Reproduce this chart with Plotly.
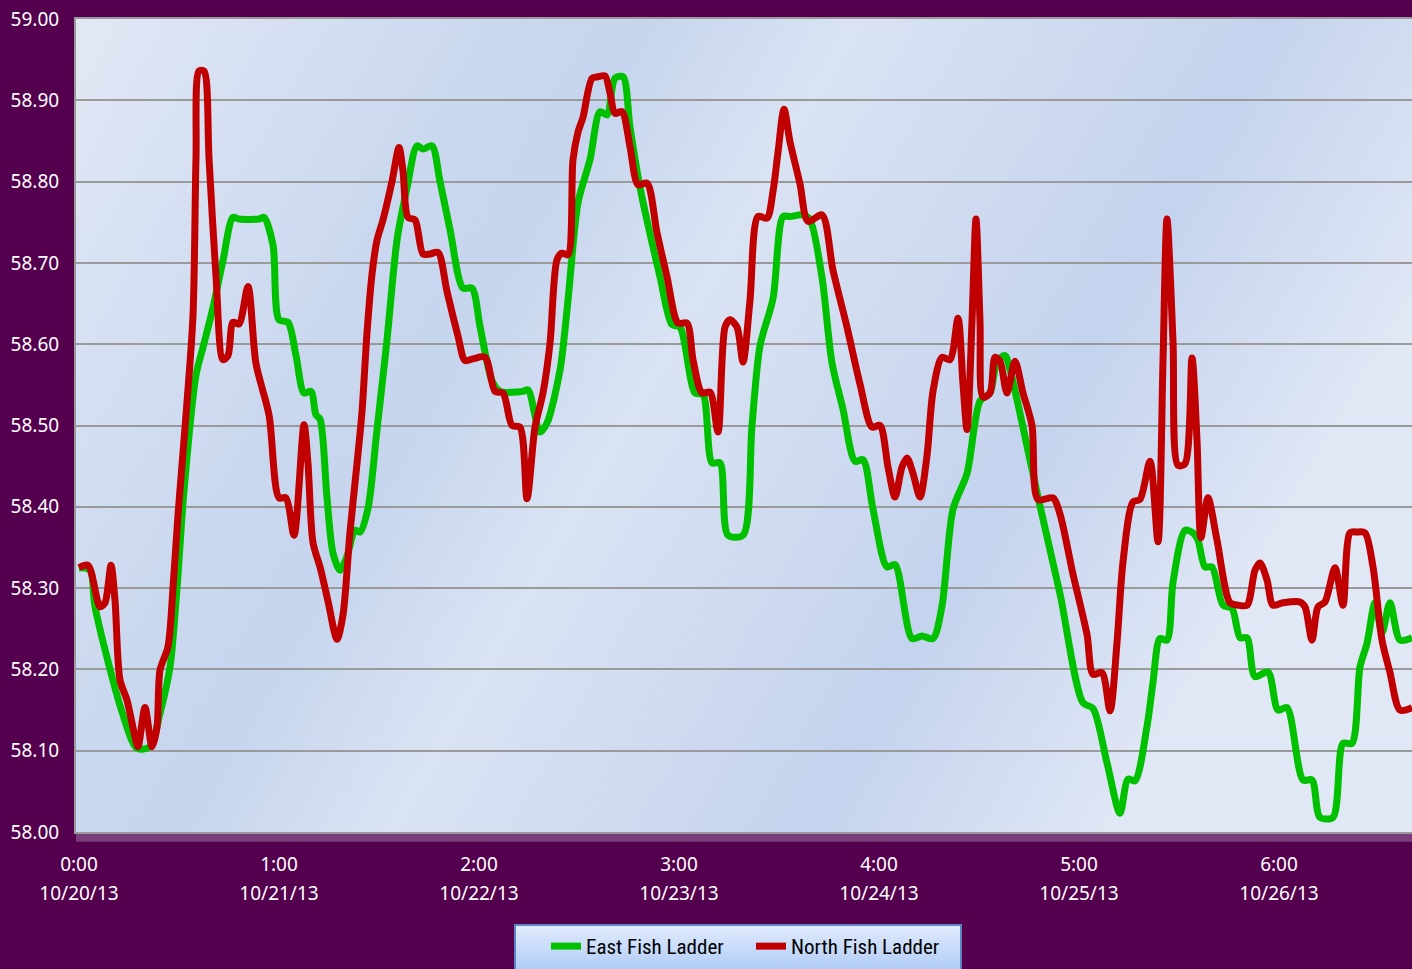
import base64
import plotly.graph_objects as go

# ---- data (x in days since 10/20/13 0:00, y in degrees) ----
east_days = [0, 0.055, 0.08, 0.215, 0.29, 0.355, 0.405, 0.455, 0.49, 0.525,
             0.585, 0.62, 0.67, 0.72, 0.77, 0.80, 0.90, 0.925, 0.97, 1.00,
             1.045, 1.085, 1.125, 1.16, 1.185, 1.205, 1.24, 1.27, 1.305, 1.34,
             1.38, 1.405, 1.445, 1.49, 1.54, 1.59, 1.64, 1.69, 1.72, 1.765,
             1.805, 1.855, 1.92, 1.965, 2.005, 2.065, 2.105, 2.22, 2.245, 2.305,
             2.34, 2.405, 2.445, 2.495, 2.555, 2.605, 2.64, 2.68, 2.72, 2.755,
             2.805, 2.905, 2.965, 3.005, 3.08, 3.12, 3.165, 3.205, 3.245, 3.32,
             3.365, 3.405, 3.47, 3.52, 3.555, 3.62, 3.655, 3.715, 3.765, 3.82,
             3.88, 3.92, 3.97, 4.04, 4.08, 4.165, 4.215, 4.27, 4.315, 4.37,
             4.44, 4.505, 4.555, 4.59, 4.63, 4.655, 4.705, 4.805, 4.905, 5.02,
             5.07, 5.14, 5.205, 5.245, 5.28, 5.34, 5.37, 5.405, 5.44, 5.47,
             5.53, 5.57, 5.595, 5.63, 5.665, 5.72, 5.765, 5.805, 5.84, 5.88,
             5.945, 5.995, 6.04, 6.12, 6.165, 6.205, 6.27, 6.32, 6.365, 6.405,
             6.44, 6.48, 6.515, 6.555, 6.605, 6.665]
east_temp = [58.325, 58.322, 58.277, 58.148, 58.103, 58.105, 58.146, 58.203, 58.30, 58.42,
             58.562, 58.596, 58.645, 58.703, 58.756, 58.754, 58.754, 58.756, 58.722, 58.630,
             58.627, 58.586, 58.540, 58.542, 58.513, 58.508, 58.411, 58.343, 58.322, 58.339,
             58.371, 58.369, 58.398, 58.495, 58.605, 58.728, 58.792, 58.844, 58.840, 58.844,
             58.800, 58.741, 58.669, 58.669, 58.622, 58.555, 58.542, 58.542, 58.544, 58.492,
             58.503, 58.568, 58.654, 58.774, 58.827, 58.886, 58.882, 58.927, 58.929, 58.867,
             58.793, 58.683, 58.624, 58.621, 58.540, 58.538, 58.454, 58.454, 58.365, 58.365,
             58.50, 58.598, 58.656, 58.757, 58.757, 58.759, 58.753, 58.682, 58.577, 58.520,
             58.456, 58.458, 58.397, 58.326, 58.329, 58.238, 58.241, 58.238, 58.278, 58.397,
             58.441, 58.53, 58.540, 58.579, 58.586, 58.569, 58.515, 58.401, 58.293, 58.159,
             58.152, 58.085, 58.023, 58.065, 58.063, 58.130, 58.184, 58.238, 58.236, 58.307,
             58.371, 58.368, 58.359, 58.326, 58.326, 58.279, 58.275, 58.239, 58.239, 58.191,
             58.197, 58.150, 58.153, 58.064, 58.064, 58.018, 58.018, 58.109, 58.109, 58.203,
             58.232, 58.282, 58.245, 58.282, 58.236, 58.239]

north_days = [0, 0.045, 0.105, 0.13, 0.16, 0.18, 0.205, 0.24, 0.28, 0.295,
              0.33, 0.365, 0.39, 0.405, 0.445, 0.47, 0.495, 0.535, 0.57, 0.585,
              0.60, 0.625, 0.65, 0.685, 0.72, 0.745, 0.77, 0.80, 0.845, 0.885,
              0.95, 1.00, 1.035, 1.075, 1.125, 1.145, 1.17, 1.205, 1.245, 1.29,
              1.32, 1.355, 1.39, 1.415, 1.44, 1.465, 1.49, 1.52, 1.565, 1.60,
              1.62, 1.645, 1.68, 1.72, 1.755, 1.795, 1.84, 1.895, 1.93, 1.97,
              2.03, 2.08, 2.12, 2.165, 2.205, 2.24, 2.28, 2.32, 2.355, 2.39,
              2.415, 2.445, 2.47, 2.495, 2.52, 2.565, 2.595, 2.63, 2.655, 2.68,
              2.715, 2.755, 2.795, 2.84, 2.89, 2.94, 2.995, 3.04, 3.07, 3.115,
              3.155, 3.195, 3.23, 3.255, 3.29, 3.32, 3.355, 3.395, 3.44, 3.47,
              3.495, 3.525, 3.555, 3.605, 3.645, 3.715, 3.77, 3.84, 3.905, 3.965,
              4.005, 4.045, 4.08, 4.115, 4.14, 4.17, 4.205, 4.24, 4.27, 4.315,
              4.355, 4.395, 4.42, 4.44, 4.465, 4.485, 4.505, 4.52, 4.555, 4.58,
              4.605, 4.64, 4.68, 4.72, 4.765, 4.795, 4.87, 4.905, 4.97, 5.04,
              5.07, 5.115, 5.155, 5.19, 5.22, 5.27, 5.305, 5.355, 5.395, 5.42,
              5.44, 5.47, 5.495, 5.53, 5.565, 5.59, 5.61, 5.645, 5.69, 5.755,
              5.795, 5.84, 5.88, 5.905, 5.94, 5.97, 6.02, 6.105, 6.13, 6.165,
              6.195, 6.23, 6.28, 6.32, 6.355, 6.39, 6.43, 6.47, 6.515, 6.555,
              6.605, 6.665]
north_temp = [58.325, 58.328, 58.277, 58.282, 58.328, 58.285, 58.187, 58.162, 58.117, 58.105,
              58.153, 58.105, 58.129, 58.199, 58.228, 58.30, 58.39, 58.513, 58.635, 58.829,
              58.936, 58.936, 58.829, 58.683, 58.581, 58.586, 58.627, 58.625, 58.671, 58.576,
              58.513, 58.411, 58.411, 58.365, 58.501, 58.453, 58.356, 58.326, 58.284, 58.237,
              58.267, 58.369, 58.453, 58.517, 58.614, 58.686, 58.728, 58.753, 58.800, 58.842,
              58.813, 58.756, 58.753, 58.711, 58.711, 58.713, 58.665, 58.610, 58.580, 58.582,
              58.584, 58.542, 58.540, 58.500, 58.498, 58.41, 58.498, 58.540, 58.601, 58.704,
              58.712, 58.710, 58.827, 58.861, 58.879, 58.927, 58.929, 58.930, 58.909, 58.884,
              58.886, 58.843, 58.796, 58.798, 58.737, 58.683, 58.626, 58.626, 58.581, 58.540,
              58.541, 58.492, 58.621, 58.630, 58.621, 58.578, 58.654, 58.757, 58.755, 58.788,
              58.836, 58.889, 58.849, 58.797, 58.751, 58.759, 58.691, 58.621, 58.551, 58.498,
              58.500, 58.449, 58.412, 58.449, 58.460, 58.441, 58.412, 58.463, 58.542, 58.584,
              58.581, 58.632, 58.551, 58.495, 58.628, 58.754, 58.628, 58.535, 58.540, 58.584,
              58.579, 58.540, 58.579, 58.540, 58.500, 58.409, 58.411, 58.391, 58.317, 58.243,
              58.194, 58.196, 58.149, 58.233, 58.332, 58.406, 58.409, 58.456, 58.357, 58.579,
              58.754, 58.604, 58.451, 58.453, 58.583, 58.482, 58.362, 58.411, 58.359, 58.282,
              58.279, 58.279, 58.322, 58.331, 58.310, 58.279, 58.282, 58.283, 58.277, 58.236,
              58.277, 58.283, 58.325, 58.279, 58.368, 58.369, 58.368, 58.326, 58.236, 58.196,
              58.150, 58.153]

tick_days = [0, 1, 2, 3, 4, 5, 6]
time_labels = ["0:00", "1:00", "2:00", "3:00", "4:00", "5:00", "6:00"]
date_labels = ["10/20/13", "10/21/13", "10/22/13", "10/23/13", "10/24/13", "10/25/13", "10/26/13"]

series_names = ["East Fish Ladder", "North Fish Ladder"]
series_colors = ["#00C000", "#C00000"]

PURPLE = "#55004F"
GRID = "#9A9A9A"
tick_font = dict(family="Noto Sans, sans-serif", size=19, color="white")
XRANGE = [-0.015, 6.665]
W, H = 1412, 969
ML, MR, MT, MB = 76, 0, 19, 137
PW, PH = W - ML - MR, H - MT - MB


def svg_uri(svg):
    return "data:image/svg+xml;base64," + base64.b64encode(svg.encode()).decode()


# ---- plot-area gradient background ----
plot_bg = (
    '<svg xmlns="http://www.w3.org/2000/svg" width="1336" height="813" preserveAspectRatio="none">'
    '<defs><linearGradient id="g" x1="0" y1="0" x2="1" y2="0.35">'
    '<stop offset="0" stop-color="#E2E8F5"/>'
    '<stop offset="0.28" stop-color="#CAD8EF"/>'
    '<stop offset="0.38" stop-color="#C6D5EE"/>'
    '<stop offset="0.52" stop-color="#D9E3F3"/>'
    '<stop offset="0.62" stop-color="#D2DDF1"/>'
    '<stop offset="0.80" stop-color="#C4D3EE"/>'
    '<stop offset="1" stop-color="#E0E7F5"/>'
    '</linearGradient></defs>'
    '<rect x="0" y="0" width="1336" height="813" fill="url(#g)"/></svg>'
)

# ---- legend box gradient ----
LEG_L, LEG_T, LEG_W, LEG_H = 514, 924, 448, 48
legend_bg = (
    f'<svg xmlns="http://www.w3.org/2000/svg" width="{LEG_W}" height="{LEG_H}" preserveAspectRatio="none">'
    '<defs><linearGradient id="l" x1="0" y1="0" x2="0" y2="1">'
    '<stop offset="0" stop-color="#E1ECFD"/>'
    '<stop offset="1" stop-color="#A9C6F5"/>'
    '</linearGradient></defs>'
    f'<rect x="1" y="1" width="{LEG_W - 2}" height="{LEG_H + 4}" fill="url(#l)" '
    'stroke="#5F84C4" stroke-width="2"/></svg>'
)

fig = go.Figure()
fig.add_trace(go.Scatter(
    x=east_days, y=east_temp, name=series_names[0], mode="lines",
    line=dict(color=series_colors[0], width=7, shape="spline", smoothing=0.8),
    xaxis="x", yaxis="y",
))
fig.add_trace(go.Scatter(
    x=north_days, y=north_temp, name=series_names[1], mode="lines",
    line=dict(color=series_colors[1], width=7, shape="spline", smoothing=0.8),
    xaxis="x2", yaxis="y",
))

fig.add_layout_image(dict(
    source=svg_uri(plot_bg), xref="x domain", yref="y domain", x=0, y=1,
    sizex=1, sizey=1, xanchor="left", yanchor="top", sizing="stretch", layer="below",
))
fig.add_layout_image(dict(
    source=svg_uri(legend_bg), xref="paper", yref="paper",
    x=(LEG_L - ML) / PW, y=(MT + PH - LEG_T) / PH,
    sizex=LEG_W / PW, sizey=LEG_H / PH,
    xanchor="left", yanchor="top", sizing="stretch", layer="above",
))

# subtle shadow under the plot area
fig.add_shape(type="rect", xref="paper", yref="paper", x0=0, x1=1, y0=-0.012, y1=0,
              fillcolor="rgba(190,175,210,0.35)", line=dict(width=0), layer="below")

fig.update_layout(
    width=W, height=H,
    margin=dict(l=ML, r=MR, t=MT, b=MB, pad=0),
    paper_bgcolor=PURPLE, plot_bgcolor="#D3DEF1",
    xaxis=dict(range=XRANGE, tickvals=tick_days, ticktext=time_labels,
               showgrid=False, zeroline=False, showline=True, mirror=True,
               linecolor=GRID, linewidth=2, ticks="", tickfont=tick_font,
               ticklabelstandoff=14),
    xaxis2=dict(range=XRANGE, overlaying="x", matches="x", side="bottom", anchor="y",
                tickvals=tick_days, ticktext=date_labels,
                showgrid=False, zeroline=False, showline=False, ticks="",
                tickfont=tick_font, ticklabelstandoff=48),
    yaxis=dict(range=[58, 59], tick0=58, dtick=0.1, tickformat=".2f",
               showgrid=True, gridcolor=GRID, gridwidth=2, zeroline=False,
               showline=True, linecolor=GRID, linewidth=2, ticks="",
               tickfont=tick_font, ticklabelstandoff=11),
    legend=dict(orientation="h", x=(546 - ML) / PW, xanchor="left",
                y=(MT + PH - 926) / PH, yanchor="top",
                bgcolor="rgba(0,0,0,0)", borderwidth=0, entrywidth=160,
                font=dict(family="Liberation Sans Narrow, Roboto Condensed, Roboto, sans-serif",
                          size=21, color="black")),
    showlegend=True,
)

fig.write_html("out.html", config={"displayModeBar": False},
               post_script="document.body.style.margin='0';document.body.style.overflow='hidden';")
